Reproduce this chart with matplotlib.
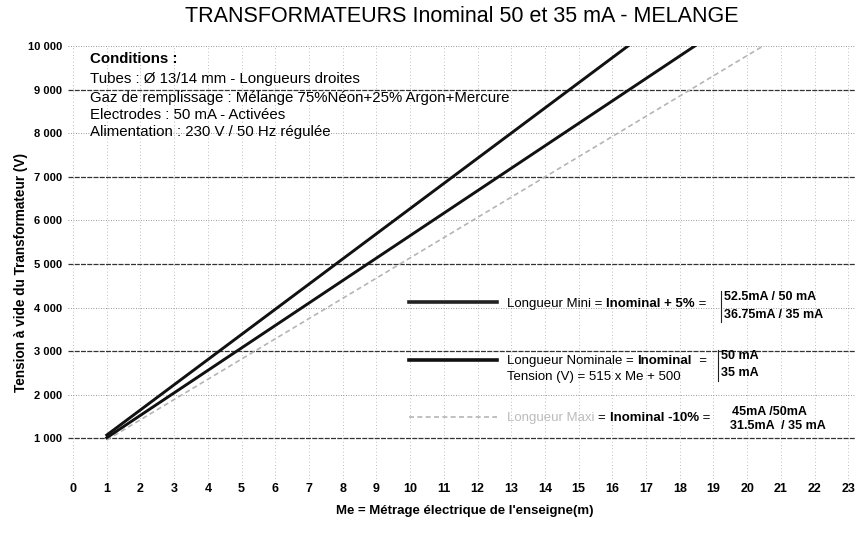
import matplotlib
matplotlib.use("Agg")
import matplotlib.pyplot as plt
from matplotlib.lines import Line2D
from matplotlib.ticker import FuncFormatter
from matplotlib import font_manager

# ---------------- data ----------------
me_pts = [1, 10, 23]                       # Métrage électrique (m)
tension_mini = [1077, 6270, 13771]         # Longueur Mini (Inominal +5%)
tension_nominal = [1015, 5650, 12345]      # Longueur Nominale : 515 x Me + 500
tension_maxi = [964, 5140, 11172]          # Longueur Maxi (Inominal -10%)

x_ticks = list(range(0, 24))
y_ticks = list(range(0, 11000, 1000))

title = "TRANSFORMATEURS Inominal 50 et 35 mA - MELANGE"
x_label = "Me = Métrage électrique de l'enseigne(m)"
y_label = "Tension à vide du Transformateur (V)"
conditions = [
    "Tubes : Ø 13/14 mm - Longueurs droites",
    "Gaz de remplissage : Mélange 75%Néon+25% Argon+Mercure",
    "Electrodes : 50 mA - Activées",
    "Alimentation : 230 V / 50 Hz régulée",
]

# ---------------- fonts ----------------
avail = {f.name for f in font_manager.fontManager.ttflist}
SANS = ["Liberation Sans", "DejaVu Sans"]
NARROW = (["Liberation Sans Narrow"] if "Liberation Sans Narrow" in avail else []) + SANS
plt.rcParams["font.family"] = SANS

W, H = 860, 539
fig = plt.figure(figsize=(W / 100, H / 100), dpi=100)
fig.patch.set_facecolor("white")


def fx(px):
    return px / W


def fy(py):
    return 1 - py / H


ax = fig.add_axes([fx(68), fy(482), fx(855) - fx(68), fy(46) - fy(482)])
ax.set_xlim(-0.15, 23.2)
ax.set_ylim(0, 10000)
for s in ax.spines.values():
    s.set_visible(False)

# grid
ax.set_xticks(x_ticks)
ax.set_yticks(y_ticks)
ax.tick_params(length=0)
ax.tick_params(axis="x", pad=1)
ax.tick_params(axis="y", pad=4)
ax.grid(True, axis="x", color="#aaaaaa", linestyle=(0, (1, 3)), linewidth=0.6)
ax.grid(True, axis="y", color="#777777", linestyle=(0, (1, 2)), linewidth=0.6)
for v, gl in zip(y_ticks, ax.get_ygridlines()):
    if (v // 1000) % 2 == 1:
        gl.set_color("#333333")
        gl.set_linestyle((0, (4, 1)))
        gl.set_linewidth(0.9)
ax.set_axisbelow(True)

ax.yaxis.set_major_formatter(
    FuncFormatter(lambda v, p: "" if v == 0 else f"{int(v):,}".replace(",", " "))
)
for lab in ax.get_xticklabels():
    lab.set_fontfamily(NARROW)
    lab.set_fontweight("bold")
    lab.set_fontsize(9)
for lab in ax.get_yticklabels():
    lab.set_fontfamily(SANS)
    lab.set_fontweight("bold")
    lab.set_fontsize(8)

# series
ax.plot(me_pts, tension_maxi, color="#b5b5b5", lw=1.2, linestyle=(0, (3, 2)))
ax.plot(me_pts, tension_nominal, color="#111111", lw=2.1)
ax.plot(me_pts, tension_mini, color="#111111", lw=2.1)

# titles
fig.text(fx(462), fy(17), title, ha="center", va="center", fontsize=15.5,
         family=SANS)
fig.text(fx(465), fy(511), x_label, ha="center", va="center", fontsize=9.5,
         fontweight="bold", family=NARROW)
fig.text(fx(21), fy(272), y_label, ha="center", va="center", rotation=90,
         fontsize=9.8, fontweight="bold", family=NARROW)

# conditions
fig.text(fx(90), fy(59), "Conditions :", ha="left", va="center", fontsize=10.8,
         fontweight="bold")
cond_y = [79, 98, 115, 132]
for yy, line in zip(cond_y, conditions):
    fig.text(fx(90), fy(yy), line, ha="left", va="center", fontsize=10.8)


# ---------------- legend (manual) ----------------
def sample(y, **kw):
    fig.add_artist(Line2D([fx(409), fx(497)], [fy(y), fy(y)],
                          transform=fig.transFigure, **kw))


def chain(x, y, parts, fs=9.5):
    t = fig.text(fx(x), fy(y), parts[0][0], ha="left", va="baseline", fontsize=fs,
                 **parts[0][1])
    for txt, kw in parts[1:]:
        t = ax.annotate(txt, xy=(1, 0), xycoords=t, va="bottom", ha="left",
                        fontsize=fs, annotation_clip=False, **kw)
    return t


def bar(x, y0, y1):
    fig.add_artist(Line2D([fx(x), fx(x)], [fy(y0), fy(y1)],
                          transform=fig.transFigure, color="#222222", lw=0.8))


B = {"fontweight": "bold"}
N = {}

# Mini
sample(302, color="#222222", lw=2.6)
chain(507, 307, [("Longueur Mini = ", N), ("Inominal + 5%", B), (" =", N)])
bar(721, 291, 322)
fig.text(fx(724), fy(297), "52.5mA / 50 mA", fontsize=9, fontweight="bold",
         va="center", ha="left")
fig.text(fx(724), fy(315), "36.75mA / 35 mA", fontsize=9, fontweight="bold",
         va="center", ha="left")

# Nominal
sample(360, color="#111111", lw=2.6)
chain(507, 364, [("Longueur Nominale = ", N), ("Inominal", B), ("  =", N)])
fig.text(fx(507), fy(377), "Tension (V) = 515 x Me + 500", fontsize=9.5,
         va="center", ha="left")
bar(718, 350, 381)
fig.text(fx(721), fy(356), "50 mA", fontsize=9, fontweight="bold",
         va="center", ha="left")
fig.text(fx(721), fy(373), "35 mA", fontsize=9, fontweight="bold",
         va="center", ha="left")

# Maxi
sample(417, color="#b5b5b5", lw=1.2, linestyle=(0, (3, 2)))
chain(507, 421, [("Longueur Maxi ", {"color": "#bbbbbb"}), ("= ", N),
                 ("Inominal -10%", B), (" =", N)])
fig.text(fx(732), fy(412), "45mA /50mA", fontsize=9, fontweight="bold",
         va="center", ha="left")
fig.text(fx(730), fy(426), "31.5mA  / 35 mA", fontsize=9, fontweight="bold",
         va="center", ha="left")

fig.savefig("out.png", dpi=100, facecolor="white")
